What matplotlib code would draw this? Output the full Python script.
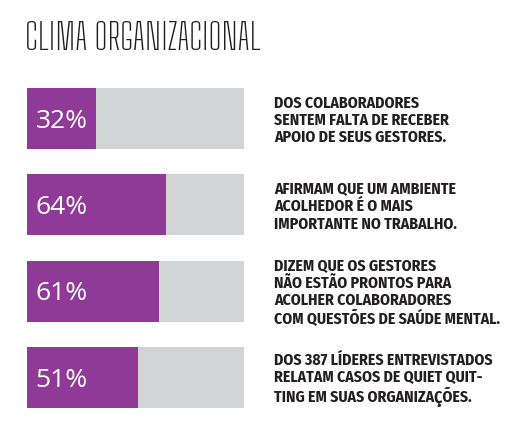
import matplotlib.pyplot as plt

# -------------------------------
# Data
# -------------------------------
title = 'CLIMA ORGANIZACIONAL'
percentages = [32, 64, 61, 51]
descriptions = [
    'DOS COLABORADORES\nSENTEM FALTA DE RECEBER\nAPOIO DE SEUS GESTORES.',
    'AFIRMAM QUE UM AMBIENTE\nACOLHEDOR É O MAIS\nIMPORTANTE NO TRABALHO.',
    'DIZEM QUE OS GESTORES\nNÃO ESTÃO PRONTOS PARA\nACOLHER COLABORADORES\nCOM QUESTÕES DE SAÚDE MENTAL.',
    'DOS 387 LÍDERES ENTREVISTADOS\nRELATAM CASOS DE QUIET QUIT-\nTING EM SUAS ORGANIZAÇÕES.',
]

purple = '#8E3A96'
gray = '#D3D4D6'
ink = '#231F20'

W, H = 517, 427
fig = plt.figure(figsize=(W / 100, H / 100), dpi=100)
fig.patch.set_facecolor('white')

# bars axes: x 27..244 px, y 89..409 px
ax = fig.add_axes([27 / W, (H - 409) / H, 217 / W, 320 / H])
pos = list(range(len(percentages)))
bar_h = 0.71
ax.barh(pos, [100] * len(pos), height=bar_h, color=gray)
ax.barh(pos, percentages, height=bar_h, color=purple)
ax.set_xlim(0, 100)
ax.set_ylim(len(pos) - 1 + bar_h / 2, -bar_h / 2)
ax.axis('off')

for i, (v, txt) in enumerate(zip(percentages, descriptions)):
    ax.text(4.0, i + 0.02, f'{v}%', color='white', fontsize=19,
            family=['Open Sans', 'DejaVu Sans'], va='center', ha='left')
    ax.text(113.8, i + 0.01, txt, color=ink, fontsize=11.3, fontweight='bold',
            family=['Fira Sans Condensed', 'Roboto', 'DejaVu Sans'],
            va='center', ha='left', linespacing=1.1, clip_on=False)

fig.text(25 / W, (H - 50) / H, title, fontsize=26.4, color=ink, weight=100,
         family=['Big Shoulders Text', 'DejaVu Sans'], va='baseline', ha='left')

fig.savefig('out.png', dpi=100)
